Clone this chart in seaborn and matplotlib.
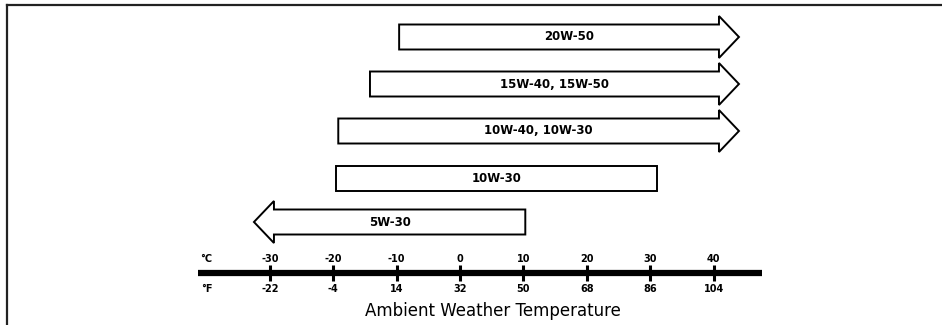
import matplotlib
matplotlib.use("Agg")
import matplotlib.pyplot as plt
import seaborn as sns
import pandas as pd
from matplotlib.patches import Polygon

sns.set_theme(style="white")
plt.rcParams['font.family'] = ['DejaVu Sans']
plt.rcParams['text.color'] = 'black'

# oil grades and their temperature ranges (deg C), open end marks the arrow side
grades = ["20W-50", "15W-40, 15W-50", "10W-40, 10W-30", "10W-30", "5W-30"]
temp_lo = [-9.6, -14.2, -19.2, -19.6, -32.5]
temp_hi = [44, 44, 44, 31, 10.3]
open_end = ["right", "right", "right", None, "left"]

# temperature scale
ticks_c = [-30, -20, -10, 0, 10, 20, 30, 40]
labels_c = ["-30", "-20", "-10", "0", "10", "20", "30", "40"]
labels_f = ["-22", "-4", "14", "32", "50", "68", "86", "104"]

px_per_deg = 6.34
zero_px = 460
W, H = 942, 325

fig = plt.figure(figsize=(W / 100, H / 100), dpi=100)
ax = fig.add_axes([7 / W, 0, 1 - 7 / W, 1 - 5 / H])
ax.set_xlim((7 - zero_px) / px_per_deg, (W - zero_px) / px_per_deg)
ax.set_ylim(H, 5)
for side in ["right", "bottom"]:
    ax.spines[side].set_visible(False)
for side in ["left", "top"]:
    ax.spines[side].set_color("#222222")
    ax.spines[side].set_linewidth(1.6)
ax.set_xticks([])
ax.set_yticks([])

row_y = [37, 84, 131, 178, 222]
body_h = 12.5
head_h = 21
head_len = 20 / px_per_deg

for name, lo, hi, end, y in zip(grades, temp_lo, temp_hi, open_end, row_y):
    if end == "right":
        b = hi - head_len
        pts = [(lo, y - body_h), (b, y - body_h), (b, y - head_h), (hi, y),
               (b, y + head_h), (b, y + body_h), (lo, y + body_h)]
    elif end == "left":
        b = lo + head_len
        pts = [(hi, y - body_h), (b, y - body_h), (b, y - head_h), (lo, y),
               (b, y + head_h), (b, y + body_h), (hi, y + body_h)]
    else:
        pts = [(lo, y - body_h), (hi, y - body_h), (hi, y + body_h), (lo, y + body_h)]
    ax.add_patch(Polygon(pts, closed=True, facecolor="white", edgecolor="black",
                         linewidth=1.4, joinstyle="miter"))
    ax.text((lo + hi) / 2, y, name, ha="center", va="center",
            fontsize=8.5, fontweight="bold", color="black")

# temperature axis line
line_y = 273
ax.plot([(198 - zero_px) / px_per_deg, (762 - zero_px) / px_per_deg], [line_y, line_y],
        color="black", linewidth=4.5, solid_capstyle="butt")
ticks_df = pd.DataFrame({"temp": ticks_c, "y": [line_y] * len(ticks_c)})
sns.scatterplot(data=ticks_df, x="temp", y="y", marker="|", s=130, linewidth=2.2,
                color="black", ax=ax, legend=False)
ax.set_xlabel("")
ax.set_ylabel("")

ax.text(-40, 259, "°C", ha="center", va="center", fontsize=7, fontweight="bold")
ax.text(-40, 289, "°F", ha="center", va="center", fontsize=7, fontweight="bold")
for t, lc, lf in zip(ticks_c, labels_c, labels_f):
    ax.text(t, 259, lc, ha="center", va="center", fontsize=7, fontweight="bold")
    ax.text(t, 289, lf, ha="center", va="center", fontsize=7, fontweight="bold")

ax.text((493 - zero_px) / px_per_deg, 311, "Ambient Weather Temperature",
        ha="center", va="center", fontsize=12, color="black")

fig.savefig("out.png", dpi=100)
